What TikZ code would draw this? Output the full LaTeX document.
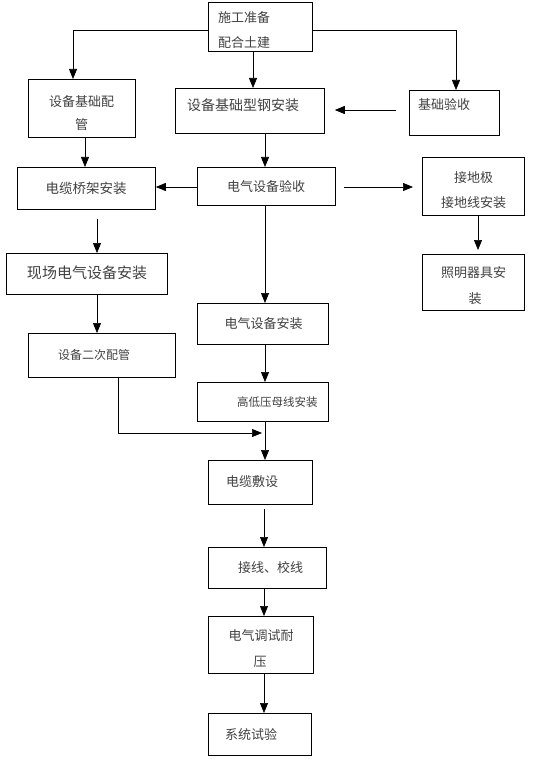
\documentclass[tikz,border=0pt]{standalone}
\usepackage{fontspec}
\newfontfamily\cjk{Noto Sans CJK SC}
\usetikzlibrary{arrows.meta}
\begin{document}
\begin{tikzpicture}[x=1pt, y=-1pt, >={Triangle[length=10pt,width=8pt]}]
\tikzstyle{kuang}=[draw=black, line width=.8pt, anchor=north west, inner sep=0]
\tikzstyle{zi}=[inner sep=0, text=black!75, font=\cjk\fontsize{13}{13}\selectfont]
\tikzstyle{xian}=[->, line width=.7pt]
\useasboundingbox(0,0)rectangle(553,762);
% kuang
\node[kuang, minimum width=104pt, minimum height=49pt](zhunbei)at(208,2){};
\node[kuang, minimum width=107pt, minimum height=58pt](peiguan)at(28,79){};
\node[kuang, minimum width=149pt, minimum height=45pt](xinggang)at(175,88){};
\node[kuang, minimum width=90pt, minimum height=45pt](yanshou)at(409,90){};
\node[kuang, minimum width=138pt, minimum height=42pt](qiaojia)at(17,167){};
\node[kuang, minimum width=138pt, minimum height=38pt](sbyanshou)at(197,167){};
\node[kuang, minimum width=102pt, minimum height=58pt](jiedi)at(422,157){};
\node[kuang, minimum width=161pt, minimum height=41pt](xianchang)at(6,253){};
\node[kuang, minimum width=102pt, minimum height=56pt](zhaoming)at(422,254){};
\node[kuang, minimum width=131pt, minimum height=41pt](sbanzhuang)at(197,303){};
\node[kuang, minimum width=147pt, minimum height=44pt](erci)at(28,333){};
\node[kuang, minimum width=131pt, minimum height=39pt](muxian)at(197,382){};
\node[kuang, minimum width=104pt, minimum height=44pt](fushe)at(208,460){};
\node[kuang, minimum width=118pt, minimum height=41pt](jiexian)at(208,547){};
\node[kuang, minimum width=105pt, minimum height=57pt](tiaoshi)at(208,616){};
\node[kuang, minimum width=103pt, minimum height=42pt](shiyan)at(208,713){};
% wenzi
\node[zi, anchor=west](t1a)at(218,18){施工准备};
\node[zi, anchor=west](t1b)at(218,43){配合土建};
\node[zi](t2a)at(81.5,102){设备基础配};
\node[zi](t2b)at(81.5,125){管};
\node[zi, anchor=west, font=\cjk\fontsize{14}{14}\selectfont](t3)at(187,105){设备基础型钢安装};
\node[zi, anchor=west](t4)at(418,105){基础验收};
\node[zi, font=\cjk\fontsize{13.5}{13.5}\selectfont](t5)at(86,188){电缆桥架安装};
\node[zi](t6)at(266,187){电气设备验收};
\node[zi](t7a)at(473.5,178){接地极};
\node[zi](t7b)at(473.5,203){接地线安装};
\node[zi, font=\cjk\fontsize{15}{15}\selectfont](t8)at(87,273){现场电气设备安装};
\node[zi](t9a)at(473.5,273){照明器具安};
\node[zi](t9b)at(475,299){装};
\node[zi](t10)at(263.5,324){电气设备安装};
\node[zi, anchor=west, font=\cjk\fontsize{12}{12}\selectfont](t11)at(58,355){设备二次配管};
\node[zi, anchor=west, font=\cjk\fontsize{11.5}{11.5}\selectfont](t12)at(237,402){高低压母线安装};
\node[zi, anchor=west](t13)at(226,482){电缆敷设};
\node[zi, anchor=west](t14)at(238,568){接线、校线};
\node[zi](t15a)at(261,636){电气调试耐};
\node[zi](t15b)at(260,662){压};
\node[zi, anchor=west](t16)at(225,734){系统试验};
% xian
\draw[xian](zhunbei.west |- 0,30)-|(peiguan.north -| 73,0);
\draw[xian](zhunbei.south -| 253,0)--(xinggang.north -| 253,0);
\draw[xian](zhunbei.east |- 0,30)-|(yanshou.north -| 456,0);
\draw[xian, shorten <=13pt, shorten >=10pt](yanshou.west |- 0,110)--(xinggang.east |- 0,110);
\draw[xian](peiguan.south -| 85,0)--(qiaojia.north -| 85,0);
\draw[xian](xinggang.south -| 265,0)--(sbyanshou.north -| 265,0);
\draw[xian](sbyanshou.west |- 0,187)--(qiaojia.east |- 0,187);
\draw[xian, shorten <=8pt, shorten >=9pt](sbyanshou.east |- 0,187)--(jiedi.west |- 0,187);
\draw[xian, shorten <=9pt](qiaojia.south -| 97,0)--(xianchang.north -| 97,0);
\draw[xian, shorten >=4pt](jiedi.south -| 478,0)--(zhaoming.north -| 478,0);
\draw[xian](sbyanshou.south -| 265,0)--(sbanzhuang.north -| 265,0);
\draw[xian](xianchang.south -| 97,0)--(erci.north -| 97,0);
\draw[xian](sbanzhuang.south -| 265,0)--(muxian.north -| 265,0);
\coordinate(huiru)at(262,433);
\draw[xian](erci.south -| 118,0)|-(huiru);
\draw[xian](muxian.south -| 265,0)--(fushe.north -| 265,0);
\draw[xian, shorten <=4pt](fushe.south -| 264,0)--(jiexian.north -| 264,0);
\draw[xian](jiexian.south -| 264,0)--(tiaoshi.north -| 264,0);
\draw[xian](tiaoshi.south -| 264,0)--(shiyan.north -| 264,0);
\end{tikzpicture}
\end{document}
